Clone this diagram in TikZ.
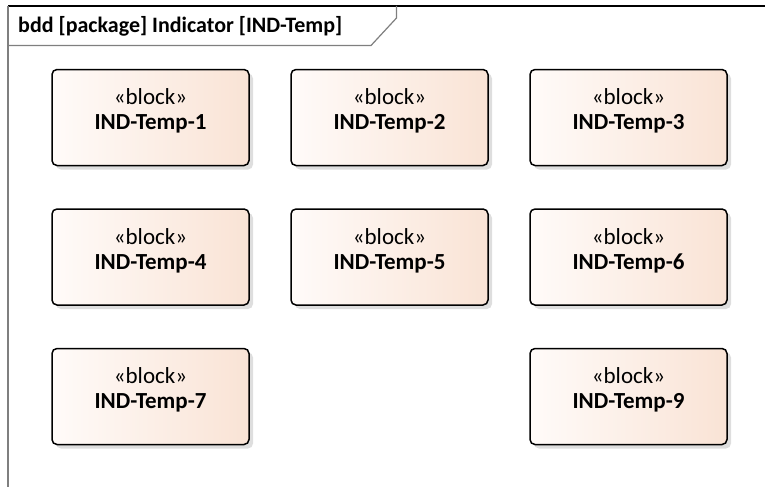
\documentclass[tikz,border=0pt]{standalone}
\usepackage{fontspec}
\setmainfont{Carlito}
\usetikzlibrary{shadows}
\definecolor{blockleft}{HTML}{FFFBF9}
\definecolor{blockright}{HTML}{F9E3D5}
\definecolor{framegray}{HTML}{7F7F7F}

\begin{document}
\begin{tikzpicture}[x=1pt,y=-1pt]
	\tikzset{blk/.style={draw=black, line width=1.5pt, rounded corners=5pt,
			minimum width=197pt, minimum height=96pt,
			left color=blockleft, right color=blockright,
			drop shadow={shadow xshift=4pt, shadow yshift=-4pt, fill=black!13, opacity=1},
			align=center, font=\fontsize{23}{25}\selectfont, text depth=16pt}}
	
	\useasboundingbox (0,0) rectangle (765,487);
	
	% diagram frame with its name tab
	\draw [black, line width=1.5pt] (8,6) -- (765,6);
	\draw [framegray, line width=1.5pt] (8,6) -- (8,487);
	\draw [framegray, line width=1.2pt] (8,45.5) -- (371,45.5) -- (396.5,18) -- (396.5,6);
	
	\node [anchor=west, inner sep=0pt, font=\bfseries\fontsize{22}{24}\selectfont] (title) at (18,26.5) {bdd [package] Indicator [IND-Temp]};
	
	% blocks
	\foreach \n/\x/\y in {1/150.5/117.5, 2/389.5/117.5, 3/628.5/117.5,
		4/150.5/257, 5/389.5/257, 6/628.5/257,
		7/150.5/396.5, 9/628.5/396.5}
	{
		\node [blk] (ind\n) at (\x,\y) {«block»\\\textbf{IND-Temp-\n}};
	}
	
\end{tikzpicture}
\end{document}
